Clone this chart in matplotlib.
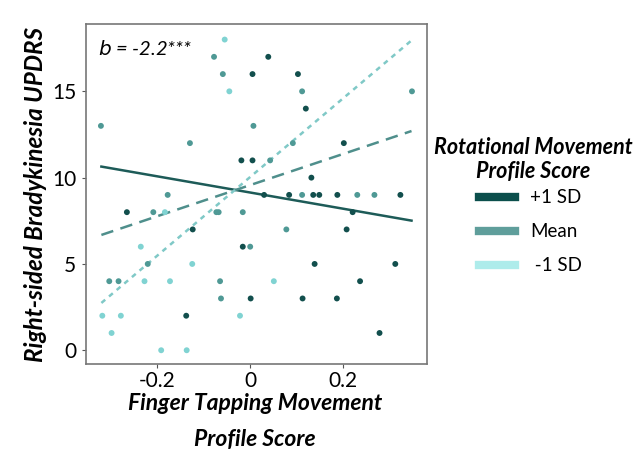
import matplotlib.pyplot as plt
from matplotlib.lines import Line2D

plt.rcParams['font.family'] = ['Lato', 'DejaVu Sans']

# colours for the moderator groups
c_dark = '#124f4d'
c_mid = '#4f9995'
c_light = '#80d3d2'

# scatter data: finger tapping score, UPDRS, moderator group (0 dark, 1 mid, 2 light)
finger = [-0.322, -0.130, -0.178, -0.055, -0.078, 0.039, -0.059, 0.005, 0.103,
          -0.045, 0.112, 0.120, 0.007, 0.092, -0.019, 0.005, 0.043, 0.132,
          0.030, 0.084, 0.112, 0.136, 0.149, 0.188, 0.231, 0.268, 0.324,
          0.349, 0.202, 0.221, 0.208, 0.139, 0.313, 0.237, 0.187, 0.279,
          -0.073, -0.068, -0.016, 0.078, -0.016, 0.000, -0.065, 0.051,
          -0.063, 0.001, 0.113, -0.022,
          -0.266, -0.209, -0.184, -0.124, -0.236, -0.221, -0.125, -0.304,
          -0.284, -0.228, -0.173, -0.319, -0.279, -0.138, -0.299, -0.192, -0.137]
updrs = [13, 12, 9, 18, 17, 17, 16, 16, 16,
         15, 15, 14, 13, 12, 11, 11, 11, 10,
         9, 9, 9, 9, 9, 9, 9, 9, 9,
         15, 12, 8, 7, 5, 5, 4, 3, 1,
         8, 8, 8, 7, 6, 6, 4, 4,
         3, 3, 3, 2,
         8, 8, 8, 7, 6, 5, 5, 4,
         4, 4, 4, 2, 2, 2, 1, 0, 0]
group = [1, 1, 1, 2, 1, 0, 1, 0, 0,
         2, 1, 0, 1, 1, 0, 0, 1, 0,
         0, 0, 1, 0, 0, 0, 1, 1, 0,
         1, 0, 0, 0, 0, 0, 0, 0, 0,
         1, 1, 1, 1, 0, 1, 1, 2,
         1, 0, 0, 2,
         0, 1, 2, 0, 2, 1, 2, 1,
         1, 2, 2, 2, 2, 0, 2, 2, 2]

# simple slopes: y at the two ends of the x range
line_x = [-0.321, 0.348]
plus_sd = [10.64, 7.51]
mean_sd = [6.68, 12.70]
minus_sd = [2.74, 17.95]

palette = [c_dark, c_mid, c_light]
colors = [palette[g] for g in group]

fig = plt.figure(figsize=(6.33, 4.62), dpi=100)
ax = fig.add_axes([0.136, 0.212, 0.539, 0.736])

ax.scatter(finger, updrs, s=18, c=colors, edgecolors='none', zorder=3)
ax.plot(line_x, plus_sd, color='#1d5b58', lw=1.8, zorder=2)
ax.plot(line_x, mean_sd, color='#4f8f8c', lw=1.8, ls=(0, (5, 3)), zorder=2)
ax.plot(line_x, minus_sd, color='#80c9c7', lw=1.8, ls=(0, (2, 2)), zorder=2)

ax.set_xlim(-0.354, 0.382)
ax.set_ylim(-0.8, 18.9)
ax.set_xticks([-0.2, 0, 0.2])
ax.set_xticklabels(['-0.2', '0', '0.2'])
ax.set_yticks([0, 5, 10, 15])
ax.tick_params(labelsize=15, length=3, color='#555555', pad=4)
ax.tick_params(axis='x', pad=2)
for s in ax.spines.values():
    s.set_color('#777777')
    s.set_linewidth(1.2)

ax.text(0.035, 0.955, r'$b$ = -2.2***', transform=ax.transAxes,
        fontsize=14.5, fontstyle='italic', va='top', ha='left')

ax.set_ylabel('Right-sided Bradykinesia UPDRS', fontsize=17.5,
              fontweight='bold', fontstyle='italic', labelpad=4)

# x label, two lines placed separately
fig.text(0.403, 0.112, 'Finger Tapping Movement', fontsize=16.5,
         fontweight='bold', fontstyle='italic', ha='center', va='baseline')
fig.text(0.403, 0.034, 'Profile Score', fontsize=16.5,
         fontweight='bold', fontstyle='italic', ha='center', va='baseline')

# legend title placed on its own, entries below
fig.text(0.842, 0.655, 'Rotational Movement\nProfile Score', fontsize=15.5,
         fontweight='bold', fontstyle='italic', ha='center', va='center',
         multialignment='center', linespacing=1.15)

handles = [Line2D([], [], color='#0b4f4c', lw=6),
           Line2D([], [], color='#5f9e9b', lw=6),
           Line2D([], [], color='#aeeceb', lw=6)]
leg = fig.legend(handles, ['+1 SD', 'Mean', ' -1 SD'],
                 loc='upper left', bbox_to_anchor=(0.757, 0.590),
                 frameon=False, fontsize=13.5, borderpad=0, borderaxespad=0,
                 handlelength=1.9, labelspacing=0.9, handletextpad=0.8)

fig.savefig('out.png', dpi=100)
